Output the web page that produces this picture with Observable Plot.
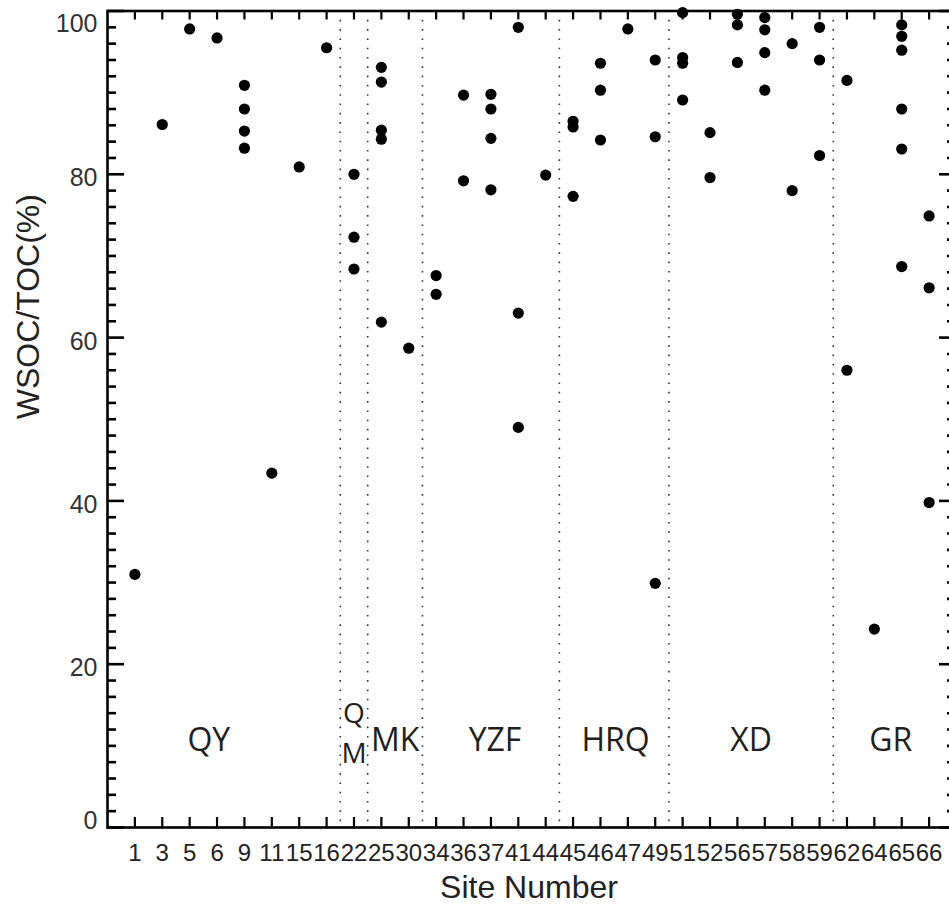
<!DOCTYPE html>
<html>
<head>
<meta charset="utf-8">
<script src="https://cdn.jsdelivr.net/npm/d3@7"></script>
<script src="https://cdn.jsdelivr.net/npm/@observablehq/plot@0.6"></script>
<style>
  html, body { margin: 0; padding: 0; background: #fff; overflow: hidden; }
  #chart { width: 949px; height: 905px; overflow: hidden; }
  #chart svg { max-width: none !important; width: 960px !important; height: 905px !important; display: block; }
</style>
</head>
<body>
<div id="chart"></div>
<script>
// ---- data ----
const sites = ["1","3","5","6","9","11","15","16","22","25","30","34","36","37","41","44","45","46","47","49","51","52","56","57","58","59","62","64","65","66"];
const siteGroup = ["QY","QY","QY","QY","QY","QY","QY","QY","QM","MK","MK","YZF","YZF","YZF","YZF","YZF","HRQ","HRQ","HRQ","HRQ","XD","XD","XD","XD","XD","XD","GR","GR","GR","GR"];
const ratios = [
  [31.0],
  [86.1],
  [97.8],
  [96.7],
  [90.9, 88.0, 85.3, 83.2],
  [43.4],
  [80.9],
  [95.5],
  [80.0, 72.3, 68.4],
  [93.1, 91.3, 85.4, 84.3, 61.9],
  [58.7],
  [67.6, 65.3],
  [89.7, 79.2],
  [89.8, 88.0, 84.4, 78.1],
  [98.0, 63.0, 49.0],
  [79.9],
  [86.5, 85.8, 77.3],
  [93.6, 90.3, 84.2],
  [97.8],
  [94.0, 84.6, 29.9],
  [99.8, 94.3, 93.6, 89.1],
  [85.1, 79.6],
  [99.6, 98.3, 93.7],
  [99.2, 97.7, 94.9, 90.3],
  [96.0, 78.0],
  [98.0, 94.0, 82.3],
  [91.5, 56.0],
  [24.3],
  [98.3, 96.9, 95.2, 88.0, 83.1, 68.7],
  [74.9, 66.1, 39.8]
];
const groupLabels = ["QY", "MK", "YZF", "HRQ", "XD", "GR"];
const groupLabelAt = [3.7, 10.5, 14.15, 18.55, 23.5, 28.6]; // site-index position of each label
const stackedLetters = ["Q", "M"];   // the one-site QM group, written stacked
const stackedLevels = [13.95, 9.05];
const stackedLabelAt = 9.0;
const labelLevel = 10.6;             // value level of group labels
const yTicks = [0, 20, 40, 60, 80, 100];
const yTitle = "WSOC/TOC(%)";
const xTitle = "Site Number";

// ---- derived tables ----
const points = ratios.flatMap((vals, i) => vals.map(v => ({idx: i + 1, site: sites[i], value: v})));
const idx = sites.map((s, i) => i + 1);
const separators = [];
for (let i = 1; i < siteGroup.length; i++) if (siteGroup[i] !== siteGroup[i - 1]) separators.push(i + 0.5);
const labels = groupLabels.map((t, i) => ({text: t, x: groupLabelAt[i], y: labelLevel}));
const stacked = stackedLetters.map((t, i) => ({text: t, x: stackedLabelAt, y: stackedLevels[i]}));
const minorY = d3.range(0, 101, 2).filter(v => v % 20 !== 0);

const W = 960, H = 905, mL = 107, mR = 4, mT = 10.5, mB = 78;
const fw = W - mL - mR, fh = H - mT - mB;

const plot = Plot.plot({
  width: W, height: H,
  marginLeft: mL, marginRight: mR, marginTop: mT, marginBottom: mB,
  style: {fontFamily: "'Liberation Sans', Arial, Helvetica, sans-serif", background: "#fff", color: "#000", maxWidth: "none"},
  x: {type: "linear", domain: [0, 31]},
  y: {domain: [0, 100]},
  marks: [
    // group separators
    Plot.ruleX(separators, {x: d => d, stroke: "#333", strokeWidth: 1.6, strokeDasharray: "1.6,7.7"}),
    // x ticks bottom (inward) and top (inward)
    Plot.tickX(idx, {x: d => d, insetTop: fh - 10, stroke: "#000", strokeWidth: 2.2}),
    Plot.tickX(idx, {x: d => d, insetBottom: fh - 9, stroke: "#000", strokeWidth: 2.2}),
    // y ticks left
    Plot.tickY(minorY, {y: d => d, insetRight: fw - 9, stroke: "#000", strokeWidth: 2.6}),
    Plot.tickY(yTicks, {y: d => d, insetRight: fw - 17, stroke: "#000", strokeWidth: 2.6}),
    // y ticks right
    Plot.tickY(minorY, {y: d => d, insetLeft: fw - 9, stroke: "#000", strokeWidth: 2.6}),
    Plot.tickY(yTicks, {y: d => d, insetLeft: fw - 17, stroke: "#000", strokeWidth: 2.6}),
    // axis labels
    Plot.axisX({ticks: idx, tickFormat: i => sites[i - 1], tickSize: 0, tickPadding: 16, fontSize: 24, fill: "#222", label: null}),
    Plot.axisY({ticks: [20, 40, 60, 80], tickSize: 0, tickPadding: 10, dy: 4, fontSize: 25, fill: "#333", label: null}),
    Plot.axisY({ticks: [100], tickSize: 0, tickPadding: 10, dy: 13, fontSize: 25, fill: "#333", label: null}),
    Plot.axisY({ticks: [0], tickSize: 0, tickPadding: 10, dy: -7, fontSize: 25, fill: "#333", label: null}),
    // titles
    Plot.text([xTitle], {frameAnchor: "bottom", lineAnchor: "bottom", dy: 70, dx: -3, fontSize: 32, fill: "#222"}),
    Plot.text([yTitle], {frameAnchor: "left", rotate: -90, dx: -79, fontSize: 32, fill: "#222"}),
    // group labels
    Plot.text(labels, {x: "x", y: "y", text: "text", fontFamily: "'Open Sans', 'Noto Sans', sans-serif", fontSize: 32, fill: "#231f20"}),
    Plot.text(stacked, {x: "x", y: "y", text: "text", fontFamily: "'Open Sans', 'Noto Sans', sans-serif", fontSize: 28, fill: "#231f20"}),
    // data points
    Plot.dot(points, {x: "idx", y: "value", r: 5.6, fill: "#000", stroke: "none"}),
    // frame
    Plot.frame({stroke: "#000", strokeWidth: 2.6})
  ]
});
document.getElementById("chart").appendChild(plot);
</script>
</body>
</html>
